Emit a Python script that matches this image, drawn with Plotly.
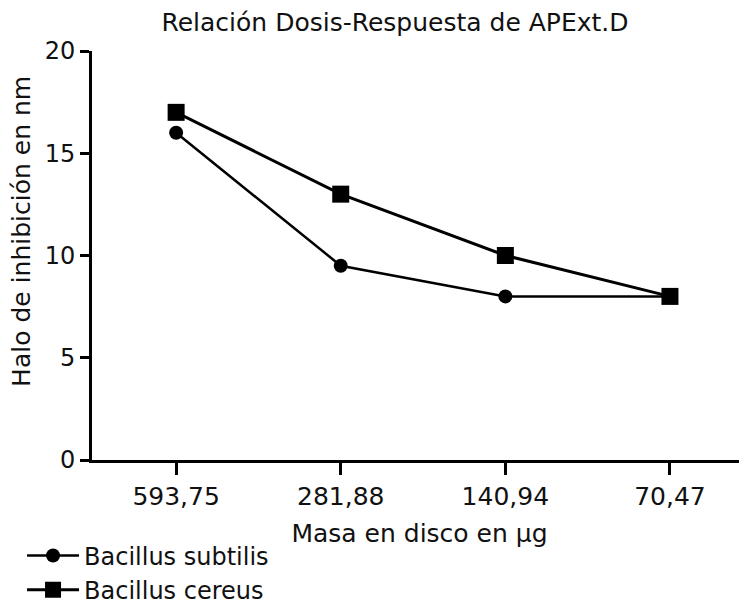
import plotly.graph_objects as go

categories = ["593,75", "281,88", "140,94", "70,47"]
subtilis = [16, 9.5, 8, 8]
cereus = [17, 13, 10, 8]
y_ticks = [0, 5, 10, 15, 20]

FONT = "DejaVu Sans"
INK = "#111111"

fig = go.Figure()
fig.add_trace(go.Scatter(
    x=categories, y=subtilis, name="Bacillus subtilis", mode="lines+markers",
    line=dict(color="black", width=2.5),
    marker=dict(symbol="circle", size=14, color="black"),
    legendgroup="a",
))
fig.add_trace(go.Scatter(
    x=categories, y=cereus, name="Bacillus cereus", mode="lines+markers",
    line=dict(color="black", width=3),
    marker=dict(symbol="square", size=17, color="black"),
    legendgroup="b",
))

fig.update_layout(
    width=739, height=597,
    margin=dict(l=84, r=0, t=43, b=145, autoexpand=False),
    plot_bgcolor="white", paper_bgcolor="white",
    font=dict(family=FONT, size=25, color=INK),
    title=dict(text="Relación Dosis-Respuesta de APExt.D", x=0.4626, xref="paper",
               xanchor="center", y=0.976, yanchor="middle",
               font=dict(family=FONT, size=25, color=INK)),
    showlegend=True,
    legend=dict(xref="container", yref="container", x=0.019, y=0.12,
                xanchor="left", yanchor="top",
                orientation="v", font=dict(family=FONT, size=24, color=INK),
                bgcolor="rgba(0,0,0,0)", tracegroupgap=0, itemwidth=52),
    annotations=[dict(
        text="Halo de inhibición en nm", textangle=-90,
        xref="paper", yref="paper", x=-0.107, y=0.56,
        xanchor="center", yanchor="middle", showarrow=False,
        font=dict(family=FONT, size=25, color=INK),
    )],
)
fig.update_xaxes(
    type="category", range=[-0.511, 3.468], automargin=True,
    showline=True, linecolor="black", linewidth=3,
    ticks="outside", ticklen=12, tickwidth=3, tickcolor="black",
    showgrid=False, zeroline=False,
    tickfont=dict(family=FONT, size=25, color=INK),
    title=dict(text="Masa en disco en µg", font=dict(family=FONT, size=25, color=INK), standoff=15),
)
fig.update_yaxes(
    range=[0, 20], tickvals=y_ticks, automargin=False,
    showline=True, linecolor="black", linewidth=3,
    ticks="outside", ticklen=9, tickwidth=3, tickcolor="black",
    showgrid=False, zeroline=False,
    tickfont=dict(family=FONT, size=24, color=INK),
)

fig.write_html("out.html")
